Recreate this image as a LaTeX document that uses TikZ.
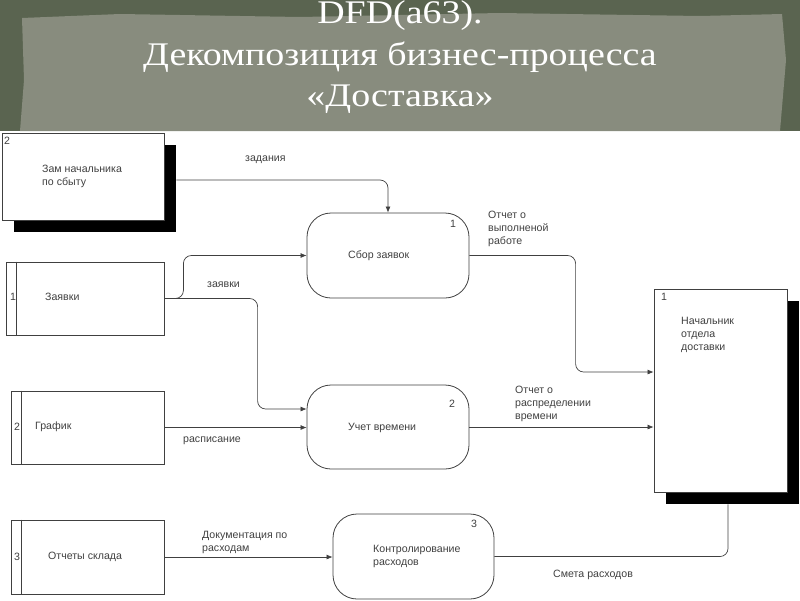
\documentclass[tikz,border=0pt]{standalone}
\usepackage{fontspec}
\setmainfont{Liberation Sans}
\newfontfamily\titlefont[FakeStretch=1.15]{Liberation Serif}
\usetikzlibrary{arrows.meta,shadows,calc}
\definecolor{bgdark}{HTML}{5A6450}
\definecolor{paper}{HTML}{888C7E}
\definecolor{ink}{HTML}{404040}
\begin{document}
\begin{tikzpicture}[x=1pt,y=-1pt,
  ext/.style={draw=ink, fill=white, line width=0.8pt, inner sep=0,
    general shadow={fill=black, shadow xshift=12pt, shadow yshift=-12pt}},
  proc/.style={draw=ink, fill=white, line width=0.8pt, rounded corners=24pt, inner sep=0},
  store/.style={draw=ink, fill=white, line width=0.8pt, inner sep=0},
  flow/.style={draw=ink, line width=0.7pt, rounded corners=8pt},
  arr/.style={-{Latex[length=6pt,width=5pt]}},
  lbl/.style={font=\fontsize{10.6}{13}\selectfont, text=ink, inner sep=0, align=left, anchor=west},
  ttl/.style={font=\titlefont\fontsize{33}{33}\selectfont, text=white, inner sep=0, anchor=base}
]
\useasboundingbox (0,0) rectangle (800,600);
% title band
\fill[bgdark] (0,0) rectangle (800,131);
\fill[paper] (22,18) -- (120,14) -- (300,17) -- (500,13) -- (700,16) -- (782,14) -- (786,60) -- (780,131) -- (20,131) -- (24,80) -- cycle;
\node[ttl] (t1) at (400,23) {DFD(a63).};
\node[ttl] (t2) at (400,65) {Декомпозиция бизнес-процесса};
\node[ttl] (t3) at (400,106) {«Доставка»};

% external entities
\node[ext, minimum width=162pt, minimum height=87pt] (zam) at (83,176.5) {};
\node[ext, minimum width=133pt, minimum height=203pt] (nach) at (720.5,390.5) {};
% processes
\node[proc, minimum width=162pt, minimum height=85pt] (p1) at (388,255.5) {};
\node[proc, minimum width=162pt, minimum height=84pt] (p2) at (388,427) {};
\node[proc, minimum width=161pt, minimum height=85pt] (p3) at (413.5,556.5) {};
% stores
\node[store, minimum width=158pt, minimum height=73pt] (s1) at (85,298.5) {};
\node[store, minimum width=153pt, minimum height=73pt] (s2) at (87.5,427.5) {};
\node[store, minimum width=153pt, minimum height=74pt] (s3) at (87.5,557) {};
\foreach \s in {s1,s2,s3}{
  \draw[ink, line width=0.8pt] ($(\s.north west)+(11,0)$) -- ($(\s.south west)+(11,0)$);
}

% flows
\draw[flow, arr] ($(zam.east)+(12,3.5)$) -| (p1.north);
\draw[flow, arr] (s1.east) -- ++(19,0) |- (p1.west);
\draw[flow, arr] (s1.east) -| ($(p2.west)+(-49,-18)$) -- ($(p2.west)+(0,-18)$);
\draw[flow, arr] (s2.east) -- (s2.east -| p2.west);
\draw[flow, arr] (p1.east) -| ($(nach.west)+(-78,-18.5)$) -- ($(nach.west)+(0,-18.5)$);
\draw[flow, arr] (p2.east) -- (p2.east -| nach.west);
\draw[flow, arr] (s3.east) -- (s3.east -| p3.west);
\draw[flow] (p3.east) -| ($(nach.south)+(7.5,12)$);

% numbers
\node[lbl] (n-zam) at (4,141) {2};
\node[lbl] (n-nach) at (661,297) {1};
\node[lbl] (n-p1) at (450,224) {1};
\node[lbl] (n-p2) at (449,404) {2};
\node[lbl] (n-p3) at (471,524) {3};
\node[lbl] (n-s1) at (10,297) {1};
\node[lbl] (n-s2) at (14,427) {2};
\node[lbl] (n-s3) at (14,557) {3};

% entity / process / store texts
\node[lbl] (x-zam) at (42,176) {Зам начальника\\по сбыту};
\node[lbl] (x-nach) at (681,335) {Начальник\\отдела\\доставки};
\node[lbl] (x-p1) at (348,256) {Сбор заявок};
\node[lbl] (x-p2) at (348,428) {Учет времени};
\node[lbl] (x-p3) at (373,556) {Контролирование\\расходов};
\node[lbl] (x-s1) at (45,297) {Заявки};
\node[lbl] (x-s2) at (35,427) {График};
\node[lbl] (x-s3) at (48,557) {Отчеты склада};

% flow labels
\node[lbl] (l1) at (245,160) {задания};
\node[lbl] (l2) at (207,285) {заявки};
\node[lbl] (l3) at (183,441) {расписание};
\node[lbl] (l4) at (488,229) {Отчет о\\выполненой\\работе};
\node[lbl] (l5) at (515,404) {Отчет о\\распределении\\времени};
\node[lbl] (l6) at (202,542) {Документация по\\расходам};
\node[lbl] (l7) at (553,575) {Смета расходов};
\end{tikzpicture}
\end{document}
